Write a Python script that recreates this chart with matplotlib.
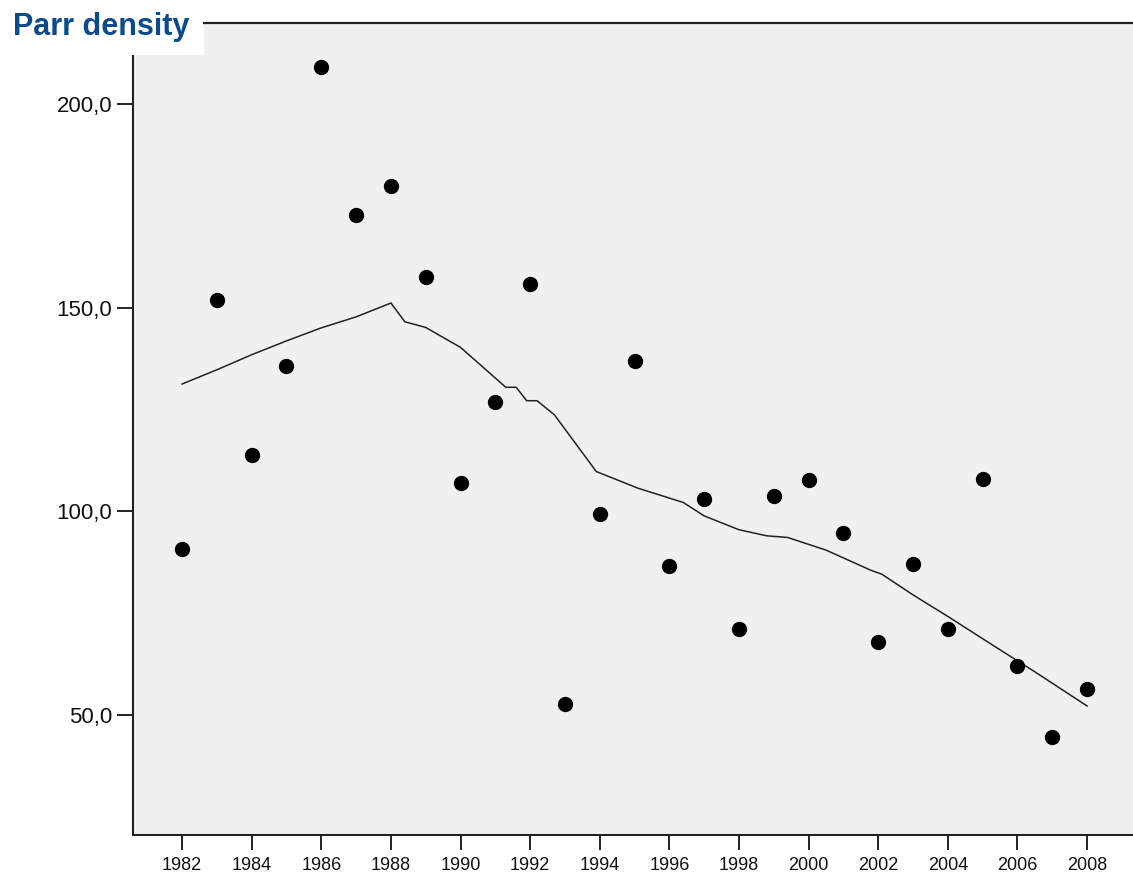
import matplotlib
matplotlib.use('Agg')
import matplotlib.pyplot as plt
from matplotlib.patches import Rectangle
from matplotlib.lines import Line2D
from matplotlib.ticker import FuncFormatter

# observed parr density per year
years = [1982, 1983, 1984, 1985, 1986, 1987, 1988, 1989, 1990,
         1991, 1992, 1993, 1994, 1995, 1996, 1997, 1998, 1999,
         2000, 2001, 2002, 2003, 2004, 2005, 2006, 2007, 2008]
density = [90.8, 152.0, 113.9, 135.7, 209.3, 172.9, 180.0, 157.7, 107.1,
           127.0, 155.9, 52.7, 99.4, 137.0, 86.6, 103.1, 71.1, 103.8,
           107.7, 94.8, 67.8, 87.0, 71.1, 107.9, 62.0, 44.7, 56.3]

# smoothed (loess) curve
fit_x = [1982, 1983, 1984, 1985, 1986, 1987, 1988, 1988.4, 1989, 1990,
         1991.3, 1991.6, 1991.9, 1992.2, 1992.7, 1993.9, 1995.1, 1996.4,
         1997.0, 1998.0, 1998.8, 1999.4, 2000.5, 2001.8, 2002.1, 2003.0,
         2004.0, 2005.5, 2006.5, 2008]
fit_y = [131.3, 134.8, 138.5, 141.9, 145.1, 147.8, 151.2, 146.6, 145.2, 140.3,
         130.5, 130.5, 127.2, 127.2, 123.7, 109.8, 105.7, 102.2,
         98.9, 95.5, 94.0, 93.6, 90.5, 85.5, 84.6, 79.5,
         74.2, 66.0, 60.6, 52.2]

title = 'Parr density'
xticks = list(range(1982, 2009, 2))
yticks = [50, 100, 150, 200]

W, H = 1133, 877
fig = plt.figure(figsize=(W / 100, H / 100), dpi=100)
fig.patch.set_facecolor('white')

ax = fig.add_axes([133 / W, (H - 835) / H, 1 - 133 / W, (835 - 23) / H])
ax.set_facecolor('#f0f0f0')

ax.plot(fit_x, fit_y, color='#222222', lw=1.1, zorder=2)
ax.plot(years, density, 'o', color='black', ms=10, zorder=3)

ax.set_xlim(1980.59, 2009.32)
ax.set_ylim(20.5, 220.0)

ax.set_xticks(xticks)
ax.set_yticks(yticks)
ax.yaxis.set_major_formatter(FuncFormatter(lambda v, p: f'{v:.1f}'.replace('.', ',')))
ax.tick_params(axis='x', length=11, width=1.3, labelsize=13, pad=5, colors='#111111')
ax.tick_params(axis='y', length=11.5, width=1.3, labelsize=16, pad=3.5, colors='#111111')
for lab in ax.get_xticklabels() + ax.get_yticklabels():
    lab.set_fontfamily('Liberation Sans')

for s in ['top', 'right']:
    ax.spines[s].set_visible(False)
for s in ['left', 'bottom']:
    ax.spines[s].set_linewidth(1.5)
    ax.spines[s].set_color('#222222')
ax.spines['left'].set_bounds(20.5, 212.2)

# header line and white title box
fig.add_artist(Line2D([204 / W, 1], [(H - 23) / H] * 2, color='#222222', lw=1.6, zorder=6))
fig.patches.append(Rectangle((0, (H - 55) / H), 204 / W, 55 / H, transform=fig.transFigure,
                             facecolor='white', edgecolor='none', zorder=5))
fig.text(13 / W, (H - 35) / H, title, fontsize=22, fontweight='bold', color='#0b4a8b',
         family='Liberation Sans', va='baseline', ha='left', zorder=7)

fig.savefig('out.png', dpi=100)
